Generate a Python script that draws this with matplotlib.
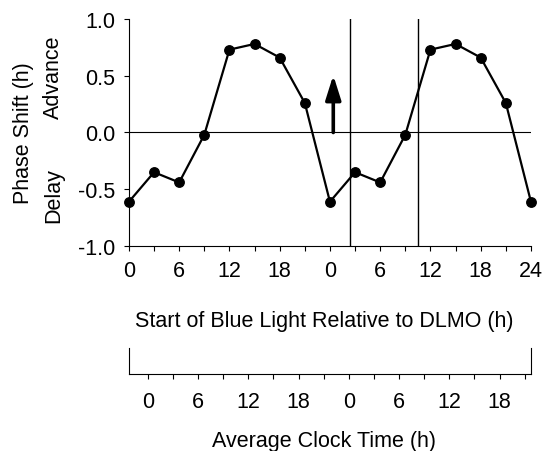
import numpy as np
import matplotlib.pyplot as plt

plt.rcParams.update({
    "font.family": "Liberation Sans",
    "font.size": 15.5,
})

# phase response data (one cycle, plotted twice)
hours = [0, 3, 6, 9, 12, 15, 18, 21, 24]
shift = [-0.61, -0.35, -0.44, -0.02, 0.73, 0.78, 0.66, 0.26, -0.61]
x_all = hours + [h + 24 for h in hours[1:]]
y_all = shift + shift[1:]

dlmo_ticks = list(range(0, 49, 3))
dlmo_labels = ['0', '6', '12', '18', '0', '6', '12', '18', '24']
clock_offset = 2.25
clock_labels = ['0', '6', '12', '18', '0', '6', '12', '18']
vlines = [26.35, 34.5]
arrow_x = 24.4
arrow_top = 0.505

fig = plt.figure(figsize=(5.44, 4.52), dpi=100)
ax = fig.add_axes([0.237, 0.4535, 0.739, 0.5023])

ax.plot(x_all, y_all, color='black', lw=1.6, marker='o', ms=6.8, zorder=3,
        clip_on=False)
ax.axhline(0, color='black', lw=0.8)
for v in vlines:
    ax.axvline(v, color='black', lw=1.0)
ax.annotate('', xy=(arrow_x, arrow_top), xytext=(arrow_x, 0),
            arrowprops=dict(arrowstyle='-|>,head_length=0.95,head_width=0.3',
                            color='black', lw=2.6, shrinkA=0, shrinkB=0))

ax.set_xlim(0, 48)
ax.set_ylim(-1, 1)
ax.set_xticks(dlmo_ticks)
ax.set_xticklabels([dlmo_labels[i // 2] if i % 2 == 0 else '' for i in range(len(dlmo_ticks))])
ax.set_yticks([-1, -0.5, 0, 0.5, 1])
ax.set_yticklabels(['-1.0', '-0.5', '0.0', '0.5', '1.0'])
ax.spines['top'].set_visible(False)
ax.spines['right'].set_visible(False)
for s in ['left', 'bottom']:
    ax.spines[s].set_linewidth(0.8)
ax.tick_params(length=3.6, width=0.8)
ax.tick_params(axis='y', pad=6.5)
ax.tick_params(axis='x', pad=6.5)

fig.text(0.5965, 1 - 322 / 452, 'Start of Blue Light Relative to DLMO (h)',
         ha='center', va='center')
fig.text(0.043, 0.7045, 'Phase Shift (h)', rotation=90, ha='center', va='center')
fig.text(0.098, 0.83, 'Advance', rotation=90, ha='center', va='center')
fig.text(0.098, 0.568, 'Delay', rotation=90, ha='center', va='center')

# clock time axis
ax2 = fig.add_axes([0.237, 0.1704, 0.739, 0.0575])
ax2.set_xlim(0, 48)
ax2.set_ylim(0, 1)
ax2.spines['top'].set_visible(False)
for s in ['left', 'right', 'bottom']:
    ax2.spines[s].set_linewidth(0.8)
ax2.set_yticks([])
clock_ticks = [clock_offset + 3 * k for k in range(16)]
ax2.set_xticks(clock_ticks)
ax2.set_xticklabels([clock_labels[i // 2] if i % 2 == 0 else '' for i in range(16)])
ax2.tick_params(length=3.6, width=0.8, pad=8.5)
fig.text(0.5965, 1 - 442 / 452, 'Average Clock Time (h)', ha='center', va='center')

fig.savefig('out.png', dpi=100)
